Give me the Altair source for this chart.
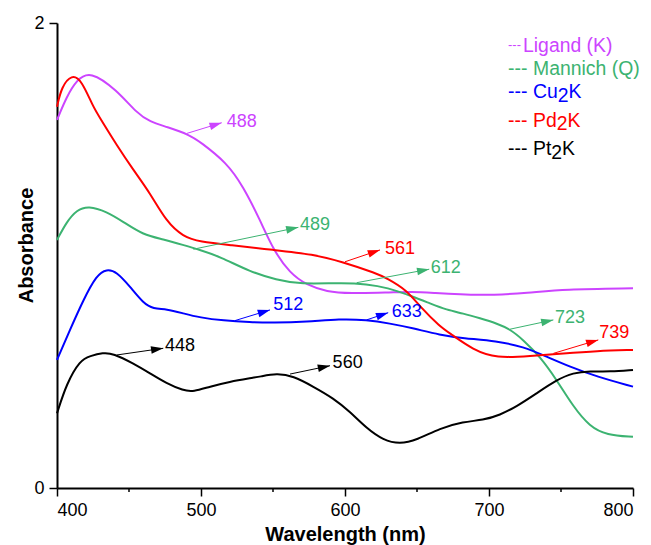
import math
import altair as alt
import pandas as pd

# ---------------- data ----------------
SERIES = ["Ligand (K)", "Mannich (Q)", "Cu2K", "Pd2K", "Pt2K"]
COLORS = ["#cc44ff", "#3cb371", "#0000ff", "#ff0000", "#000000"]

LIG_X = [400, 406.7, 413.7, 422.9, 441.4, 455.3, 464.6, 476, 492.4, 499.3, 517.8, 529.4, 541,
         550.2, 561.8, 573.4, 587.3, 603.5, 629, 647.4, 659, 693.75, 728.5, 751.6, 800]
LIG_Y = [1.583, 1.683, 1.755, 1.795, 1.712, 1.613, 1.575, 1.554, 1.518, 1.489, 1.40, 1.296, 1.153,
         1.024, 0.923, 0.873, 0.844, 0.837, 0.84, 0.845, 0.84, 0.826, 0.84, 0.855, 0.859]

MAN_X = [400, 406.7, 413.7, 421.8, 434.5, 446, 460, 473.8, 487.7, 499.3, 513.2, 534, 552.5,
         568.75, 598.8, 615, 629, 647.4, 659, 670.6, 682, 693.75, 705.3, 714.6, 723.8, 735.4,
         747, 758.5, 770, 781.7, 800]
MAN_Y = [1.067, 1.145, 1.196, 1.214, 1.189, 1.145, 1.088, 1.07, 1.045, 1.024, 0.995, 0.93, 0.895,
         0.876, 0.883, 0.877, 0.863, 0.823, 0.794, 0.766, 0.751, 0.73, 0.708, 0.683, 0.637, 0.565,
         0.465, 0.35, 0.264, 0.228, 0.22]

CU_X = [400, 409, 418.3, 427.5, 434.5, 441.4, 450.7, 460, 467, 476, 487.7, 499.3, 515.5, 534,
        550.2, 573.4, 596.5, 615, 631, 647.4, 666, 682, 705.3, 723.8, 740, 756, 774.8, 800]
CU_Y = [0.551, 0.68, 0.809, 0.916, 0.942, 0.93, 0.866, 0.794, 0.77, 0.77, 0.751, 0.733, 0.72, 0.713,
        0.711, 0.715, 0.727, 0.723, 0.708, 0.687, 0.658, 0.644, 0.632, 0.608, 0.565, 0.522, 0.479, 0.436]

PD_X = [400, 403.2, 410.2, 417, 425, 430, 441.4, 453, 464.6, 476, 487.6, 499.3, 520, 550.2, 578,
        598, 622, 629, 642.8, 652, 666, 673, 689, 705.3, 728.5, 751.6, 774.8, 800]
PD_Y = [1.64, 1.726, 1.779, 1.755, 1.64, 1.59, 1.475, 1.368, 1.269, 1.145, 1.081, 1.059, 1.045,
        1.024, 1.005, 0.973, 0.923, 0.902, 0.852, 0.78, 0.694, 0.665, 0.594, 0.558, 0.568, 0.579,
        0.589, 0.594]

PT_X = [400, 406.7, 416, 423, 432, 439, 453, 464.6, 476, 487.7, 494.7, 506, 520, 534, 541, 552.5,
        564, 578, 592, 603.5, 615, 626.6, 638, 649.8, 666, 682, 696, 707.6, 719, 733, 747, 758.5,
        770, 784, 800]
PT_Y = [0.321, 0.45, 0.55, 0.568, 0.582, 0.579, 0.536, 0.493, 0.45, 0.419, 0.414, 0.436, 0.457,
        0.472, 0.479, 0.493, 0.482, 0.436, 0.386, 0.328, 0.257, 0.206, 0.189, 0.206, 0.257, 0.285,
        0.292, 0.314, 0.35, 0.407, 0.465, 0.496, 0.503, 0.5, 0.508]

# peak annotations: label, series, arrow start (x0, y0), arrow tip (x1, y1), label anchor (tx, ty)
ANN_LABEL = ["488", "489", "561", "612", "512", "633", "723", "739", "448", "560"]
ANN_SERIES = ["Ligand (K)", "Mannich (Q)", "Pd2K", "Mannich (Q)", "Cu2K", "Cu2K", "Mannich (Q)",
              "Pd2K", "Pt2K", "Pt2K"]
ANN_X0 = [490.1, 494.7, 600.0, 608.1, 523.6, 615.0, 714.6, 744.7, 441.4, 561.8]
ANN_Y0 = [1.525, 1.027, 0.973, 0.883, 0.720, 0.723, 0.683, 0.579, 0.572, 0.490]
ANN_X1 = [514.4, 567.6, 624.3, 658.5, 547.9, 630.0, 744.7, 775.9, 473.8, 589.6]
ANN_Y1 = [1.571, 1.121, 1.024, 0.941, 0.766, 0.754, 0.723, 0.637, 0.601, 0.526]
ANN_TX = [517.8, 568.8, 627.8, 659.5, 550.2, 632.4, 745.8, 776.6, 475.0, 591.4]
ANN_TY = [1.576, 1.130, 1.027, 0.948, 0.787, 0.758, 0.730, 0.665, 0.611, 0.536]

X_TICKS = [400, 500, 600, 700, 800]
X_MINOR = [450, 550, 650, 750]
Y_TICKS = [0, 1, 2]

# legend text: main text, subscript, rest
LEG_MAIN = ["Ligand (K)", "Mannich (Q)", "Cu", "Pd", "Pt"]
LEG_SUB = ["", "", "2", "2", "2"]
LEG_REST = ["", "", "K", "K", "K"]

# ---------------- layout / style ----------------
W, H = 576, 465
FONT = "Liberation Sans"
PX_X = W / 400.0
PX_Y = H / 2.0

rows = []
for name, xs_, ys_ in zip(SERIES, [LIG_X, MAN_X, CU_X, PD_X, PT_X], [LIG_Y, MAN_Y, CU_Y, PD_Y, PT_Y]):
    for a, b in zip(xs_, ys_):
        rows.append({"wl": a, "abs": b, "series": name})
lines_df = pd.DataFrame(rows)

R = 7.0
ann_rows = []
for i in range(len(ANN_LABEL)):
    dxp = (ANN_X1[i] - ANN_X0[i]) * PX_X
    dyp = -(ANN_Y1[i] - ANN_Y0[i]) * PX_Y
    L = math.hypot(dxp, dyp)
    ux, uy = dxp / L, dyp / L
    ann_rows.append({
        "label": ANN_LABEL[i], "series": ANN_SERIES[i],
        "x0": ANN_X0[i], "y0": ANN_Y0[i], "x1": ANN_X1[i], "y1": ANN_Y1[i],
        "tx": ANN_TX[i], "ty": ANN_TY[i],
        "hx": ANN_X1[i] - ux * R / PX_X, "hy": ANN_Y1[i] + uy * R / PX_Y,
        "ang": math.degrees(math.atan2(ux, -uy)) % 360,
    })
ann_df = pd.DataFrame(ann_rows)

xs = alt.Scale(domain=[400, 800], nice=False, zero=False)
ys = alt.Scale(domain=[0, 2], nice=False, zero=False)
cs = alt.Scale(domain=SERIES, range=COLORS)

x_axis = alt.Axis(values=X_TICKS, format="d", title="Wavelength (nm)", tickSize=8, labelPadding=5,
                  titleY=52, titleX=W / 2, titleAlign="center", titleBaseline="alphabetic")
y_axis = alt.Axis(values=Y_TICKS, format="d", title="Absorbance", tickSize=8, labelPadding=5,
                  labelExpr="datum.value == 1 ? '' : datum.label",
                  titleX=-25, titleY=222, titleAngle=270, titleAlign="center",
                  titleBaseline="alphabetic")

lines = alt.Chart(lines_df).mark_line(strokeWidth=2, interpolate="basis").encode(
    x=alt.X("wl:Q", scale=xs, axis=x_axis),
    y=alt.Y("abs:Q", scale=ys, axis=y_axis),
    color=alt.Color("series:N", scale=cs, legend=None),
    detail="series:N",
)

minor = alt.Chart(pd.DataFrame({"wl": X_MINOR})).mark_rule(color="black", strokeWidth=1.5).encode(
    x=alt.X("wl:Q", scale=xs), y=alt.value(H), y2=alt.value(H + 4)
)

shafts = alt.Chart(ann_df).mark_rule(strokeWidth=1).encode(
    x=alt.X("x0:Q", scale=xs), y=alt.Y("y0:Q", scale=ys),
    x2="x1:Q", y2="y1:Q",
    color=alt.Color("series:N", scale=cs, legend=None),
)

heads = alt.Chart(ann_df).mark_point(
    shape="M0,-1L0.55,0.75L-0.55,0.75Z", filled=True, opacity=1, size=(2 * R) ** 2
).encode(
    x=alt.X("hx:Q", scale=xs), y=alt.Y("hy:Q", scale=ys),
    angle=alt.Angle("ang:Q", scale=None),
    color=alt.Color("series:N", scale=cs, legend=None),
)

labels = alt.Chart(ann_df).mark_text(
    align="left", baseline="middle", fontSize=18, font=FONT
).encode(
    x=alt.X("tx:Q", scale=xs), y=alt.Y("ty:Q", scale=ys),
    text="label:N",
    color=alt.Color("series:N", scale=cs, legend=None),
)

# legend (top right), built from text marks
LEG_DASH_X = 451
LEG_TEXT_X = [466, 476, 476, 476, 476]
LEG_BASE_Y = [28.7, 52, 75.3, 103.7, 132]
LEG_FS = 19.4
CHAR_W = {"C": 0.722, "u": 0.556, "P": 0.667, "d": 0.556, "t": 0.278, "2": 0.556}

legend_layers = []
for i, name in enumerate(SERIES):
    col = COLORS[i]
    dash_fs = 13 if i == 0 else LEG_FS
    legend_layers.append(alt.Chart(pd.DataFrame({"t": ["---"]})).mark_text(
        align="left", baseline="alphabetic", fontSize=dash_fs, font=FONT, color=col
    ).encode(x=alt.value(LEG_DASH_X), y=alt.value(LEG_BASE_Y[i] - (3 if i == 0 else 0)), text="t:N"))
    legend_layers.append(alt.Chart(pd.DataFrame({"t": [LEG_MAIN[i]]})).mark_text(
        align="left", baseline="alphabetic", fontSize=LEG_FS, font=FONT, color=col
    ).encode(x=alt.value(LEG_TEXT_X[i]), y=alt.value(LEG_BASE_Y[i]), text="t:N"))
    if LEG_SUB[i]:
        w_main = sum(CHAR_W[c] for c in LEG_MAIN[i]) * LEG_FS
        w_sub = CHAR_W[LEG_SUB[i]] * LEG_FS
        legend_layers.append(alt.Chart(pd.DataFrame({"t": [LEG_SUB[i]]})).mark_text(
            align="left", baseline="alphabetic", fontSize=LEG_FS, font=FONT, color=col
        ).encode(x=alt.value(LEG_TEXT_X[i] + w_main), y=alt.value(LEG_BASE_Y[i] + 3.5), text="t:N"))
        legend_layers.append(alt.Chart(pd.DataFrame({"t": [LEG_REST[i]]})).mark_text(
            align="left", baseline="alphabetic", fontSize=LEG_FS, font=FONT, color=col
        ).encode(x=alt.value(LEG_TEXT_X[i] + w_main + w_sub), y=alt.value(LEG_BASE_Y[i]), text="t:N"))

chart = alt.layer(lines, minor, shafts, heads, labels, *legend_layers).properties(
    width=W, height=H,
    autosize=alt.AutoSizeParams(type="none"),
    padding={"left": 49, "top": 15, "right": 10, "bottom": 57},
).configure_view(stroke=None).configure_axis(
    grid=False,
    domainColor="black", domainWidth=2,
    tickColor="black", tickWidth=1.5,
    labelColor="black", labelFont=FONT, labelFontSize=18,
    titleColor="black", titleFont=FONT, titleFontSize=20, titleFontWeight="bold",
)

chart.save("out.html", embed_options={"renderer": "svg", "actions": False})
